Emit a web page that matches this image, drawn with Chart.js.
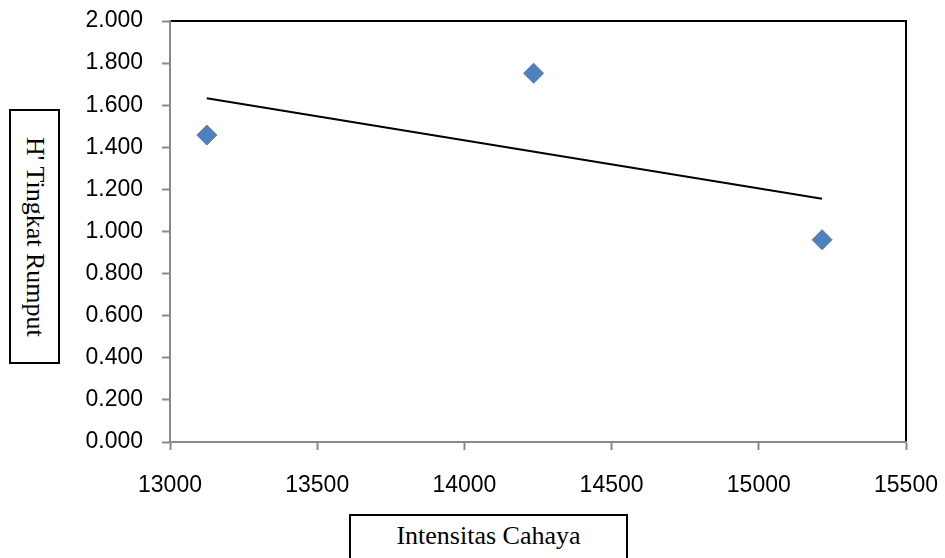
<!DOCTYPE html>
<html lang="id">
<head>
  <meta charset="UTF-8">
  <title>H' Tingkat Rumput vs Intensitas Cahaya</title>
  <script src="https://cdn.jsdelivr.net/npm/chart.js"></script>
  <style>
    body {
      margin: 0;
      padding: 0;
      background: #fff;
      overflow: hidden;
    }
    .wrap {
      position: relative;
      width: 945px;
      height: 558px;
      overflow: hidden;
    }
    canvas {
      position: absolute;
      left: 0;
      top: 0;
    }
    .box {
      position: absolute;
      border: 2px solid #000;
      background: #fff;
      font-family: "Liberation Serif", "Times New Roman", serif;
      font-size: 26px;
      color: #000;
      box-sizing: border-box;
    }
    #yTitle {
      left: 9px;
      top: 109px;
      width: 51px;
      height: 255px;
      display: flex;
      align-items: center;
      justify-content: center;
      writing-mode: vertical-rl;
      white-space: nowrap;
    }
    #xTitle {
      left: 349px;
      top: 514px;
      width: 279px;
      height: 70px;
      text-align: center;
      line-height: 26px;
      padding-top: 7px;
      white-space: nowrap;
    }
  </style>
</head>
<body>

<div class="wrap">
  <canvas id="chart" width="945" height="558"></canvas>
  <div class="box" id="yTitle">H' Tingkat Rumput</div>
  <div class="box" id="xTitle">Intensitas Cahaya</div>
</div>

<script>
  // nilai pengamatan
  const intensitas = [13125, 14235, 15215];
  const hRumput = [1.458, 1.752, 0.961];

  // garis tren (linear)
  const trendX = [13125, 15215];
  const trendY = [1.633, 1.156];

  // sumbu
  const xTicks = [13000, 13500, 14000, 14500, 15000, 15500];
  const yTicks = [0, 0.2, 0.4, 0.6, 0.8, 1.0, 1.2, 1.4, 1.6, 1.8, 2.0];

  const axisGray = '#898989';
  const tickFont = { family: '"Liberation Sans", Arial, sans-serif', size: 23 };

  // garis hitam di atas dan kanan area plot
  const frameLines = {
    id: 'frameLines',
    afterDraw(chart) {
      const a = chart.chartArea;
      const ctx = chart.ctx;
      ctx.save();
      ctx.strokeStyle = '#000';
      ctx.lineWidth = 2;
      ctx.beginPath();
      ctx.moveTo(a.left + 1, a.top);
      ctx.lineTo(a.right, a.top);
      ctx.lineTo(a.right, a.bottom - 1);
      ctx.stroke();
      ctx.restore();
    }
  };

  const ctx = document.getElementById('chart').getContext('2d');
  new Chart(ctx, {
    type: 'scatter',
    data: {
      datasets: [{
        label: "H'",
        data: intensitas.map((x, i) => ({ x: x, y: hRumput[i] })),
        pointStyle: 'rectRot',
        pointRadius: 10,
        pointHoverRadius: 10,
        backgroundColor: '#4F81BD',
        borderColor: '#4A7EBB',
        borderWidth: 1,
        order: 2
      }, {
        label: 'Linear',
        type: 'line',
        data: trendX.map((x, i) => ({ x: x, y: trendY[i] })),
        borderColor: '#000',
        borderWidth: 2,
        pointRadius: 0,
        fill: false,
        order: 1
      }]
    },
    options: {
      responsive: false,
      animation: false,
      layout: {
        padding: { left: 0, top: 21, right: 39, bottom: 0 }
      },
      plugins: {
        legend: { display: false },
        tooltip: { enabled: false }
      },
      scales: {
        x: {
          type: 'linear',
          min: xTicks[0],
          max: xTicks[xTicks.length - 1],
          afterFit(scale) {
            scale.height = 116;
            scale.paddingLeft = 0;
            scale.paddingRight = 0;
          },
          afterBuildTicks(scale) { scale.ticks = xTicks.map(v => ({ value: v })); },
          border: { display: true, color: axisGray, width: 2 },
          grid: {
            drawOnChartArea: false,
            drawTicks: true,
            tickLength: 8,
            tickWidth: 2,
            tickColor: axisGray
          },
          ticks: {
            color: '#000',
            font: tickFont,
            padding: 22,
            maxRotation: 0,
            callback: v => String(v)
          }
        },
        y: {
          min: yTicks[0],
          max: yTicks[yTicks.length - 1],
          afterFit(scale) {
            scale.width = 170;
            scale.paddingTop = 0;
            scale.paddingBottom = 0;
          },
          afterBuildTicks(scale) { scale.ticks = yTicks.map(v => ({ value: v })); },
          border: { display: true, color: axisGray, width: 2 },
          grid: {
            drawOnChartArea: false,
            drawTicks: true,
            tickLength: 8,
            tickWidth: 2,
            tickColor: axisGray
          },
          ticks: {
            color: '#000',
            font: tickFont,
            padding: 19,
            callback: v => Number(v).toFixed(3)
          }
        }
      }
    },
    plugins: [frameLines]
  });
</script>

</body>
</html>
